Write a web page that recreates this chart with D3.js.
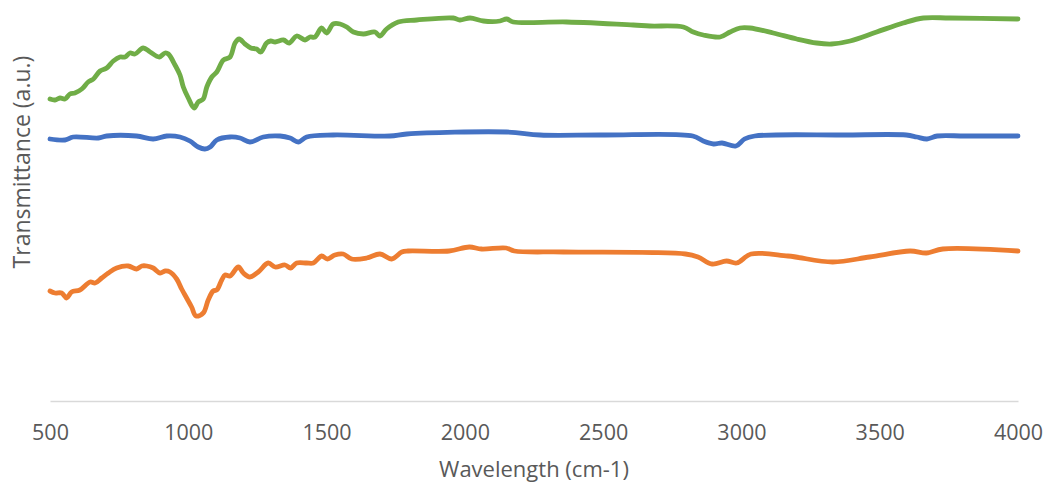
<!DOCTYPE html>
<html>
<head>
<meta charset="utf-8">
<script src="https://cdn.jsdelivr.net/npm/d3@7"></script>
<style>
  body { margin: 0; background: #fff; }
  svg { display: block; }
  text { font-family: "Open Sans", sans-serif; fill: #595959; }
</style>
</head>
<body>
<div class="chart"></div>
<script>
// chart size
const width = 1043;
const height = 485;
const margin = { top: 1, right: 25, bottom: 84, left: 50 };

// x ticks
const xTicks = [500, 1000, 1500, 2000, 2500, 3000, 3500, 4000];

// series: [wavenumber, transmittance (a.u.)]
const greenSeries = [
  [500, 3.02], [518, 3.01], [536, 3.03], [554, 3.02], [572, 3.07], [590, 3.08],
  [615, 3.12], [638, 3.19], [657, 3.22], [681, 3.30], [705, 3.33], [729, 3.40],
  [753, 3.44], [771, 3.44], [789, 3.48], [807, 3.47], [837, 3.53], [862, 3.49],
  [895, 3.44], [916, 3.48], [928, 3.47], [952, 3.36], [970, 3.26], [982, 3.14],
  [1000, 3.03], [1021, 2.93], [1036, 2.99], [1054, 3.02], [1067, 3.14], [1085, 3.24],
  [1103, 3.29], [1127, 3.41], [1151, 3.44], [1169, 3.58], [1184, 3.62], [1205, 3.57],
  [1226, 3.53], [1247, 3.52], [1262, 3.49], [1283, 3.58], [1298, 3.60], [1314, 3.59],
  [1344, 3.61], [1365, 3.58], [1392, 3.65], [1422, 3.61], [1440, 3.64], [1458, 3.64],
  [1482, 3.73], [1500, 3.68], [1524, 3.77], [1549, 3.77], [1573, 3.74], [1597, 3.69],
  [1633, 3.67], [1675, 3.69], [1693, 3.65], [1717, 3.72], [1759, 3.79], [1826, 3.81],
  [1958, 3.83], [1982, 3.81], [2019, 3.83], [2067, 3.80], [2127, 3.80], [2151, 3.82],
  [2175, 3.79], [2368, 3.79], [2609, 3.76], [2669, 3.75], [2790, 3.74], [2826, 3.69],
  [2862, 3.66], [2923, 3.64], [2959, 3.69], [2995, 3.73], [3031, 3.73], [3115, 3.68],
  [3200, 3.62], [3272, 3.58], [3326, 3.57], [3393, 3.60], [3489, 3.69], [3585, 3.78],
  [3658, 3.83], [3754, 3.83], [4000, 3.82]
];

const blueSeries = [
  [500, 2.62], [554, 2.61], [584, 2.64], [675, 2.63], [705, 2.65], [813, 2.65],
  [873, 2.62], [922, 2.65], [970, 2.64], [1006, 2.60], [1036, 2.54], [1060, 2.52],
  [1079, 2.54], [1103, 2.61], [1151, 2.64], [1187, 2.63], [1223, 2.59], [1271, 2.64],
  [1332, 2.65], [1368, 2.63], [1398, 2.59], [1428, 2.64], [1524, 2.66], [1729, 2.65],
  [1790, 2.67], [2151, 2.69], [2272, 2.66], [2501, 2.66], [2824, 2.65], [2862, 2.60],
  [2899, 2.57], [2930, 2.58], [2980, 2.55], [3011, 2.62], [3048, 2.65], [3372, 2.66],
  [3596, 2.66], [3634, 2.64], [3671, 2.62], [3708, 2.65], [3808, 2.65], [4000, 2.65]
];

const orangeSeries = [
  [500, 1.10], [518, 1.08], [542, 1.08], [560, 1.03], [578, 1.09], [608, 1.11],
  [645, 1.19], [663, 1.18], [687, 1.23], [711, 1.28], [741, 1.33], [783, 1.35],
  [813, 1.32], [832, 1.35], [850, 1.35], [873, 1.33], [898, 1.28], [916, 1.30],
  [934, 1.29], [958, 1.22], [976, 1.12], [994, 1.03], [1012, 0.94], [1028, 0.85],
  [1054, 0.88], [1072, 1.01], [1090, 1.10], [1103, 1.11], [1121, 1.21], [1133, 1.26],
  [1151, 1.25], [1181, 1.34], [1199, 1.28], [1223, 1.24], [1253, 1.29], [1289, 1.38],
  [1314, 1.34], [1350, 1.36], [1370, 1.33], [1392, 1.38], [1428, 1.38], [1452, 1.38],
  [1482, 1.45], [1503, 1.42], [1530, 1.46], [1560, 1.47], [1591, 1.42], [1645, 1.43],
  [1693, 1.47], [1735, 1.42], [1772, 1.49], [1795, 1.50], [1943, 1.50], [2016, 1.54],
  [2060, 1.52], [2149, 1.53], [2179, 1.50], [2356, 1.49], [2798, 1.47], [2843, 1.44],
  [2894, 1.37], [2946, 1.40], [2983, 1.38], [3035, 1.47], [3168, 1.45], [3330, 1.39],
  [3463, 1.44], [3610, 1.50], [3669, 1.48], [3728, 1.52], [4000, 1.50]
];

const series = [
  { name: "green", values: greenSeries, color: "#70ad47" },
  { name: "blue", values: blueSeries, color: "#4472c4" },
  { name: "orange", values: orangeSeries, color: "#ed7d31" }
];

const svg = d3
  .select(".chart")
  .append("svg")
  .attr("width", width)
  .attr("height", height);

const x = d3
  .scaleLinear()
  .domain([500, 4000])
  .range([margin.left, width - margin.right]);

const y = d3
  .scaleLinear()
  .domain([0, 4])
  .range([height - margin.bottom, margin.top]);

// x axis: plain line + labels, no tick marks
const xAxis = svg
  .append("g")
  .attr("transform", `translate(0,${y(0)})`)
  .call(d3.axisBottom(x).tickValues(xTicks).tickSize(0).tickPadding(24).tickFormat(d3.format("d")));

xAxis.select(".domain").attr("stroke", "#d9d9d9").attr("stroke-width", 1.5);
xAxis.selectAll("text")
  .attr("font-size", "21.5px")
  .attr("font-family", "'Open Sans', sans-serif")
  .attr("fill", "#595959");

// lines
const line = d3
  .line()
  .x((d) => x(d[0]))
  .y((d) => y(d[1]))
  .curve(d3.curveCatmullRom.alpha(0.5));

svg
  .append("g")
  .selectAll("path")
  .data(series)
  .enter()
  .append("path")
  .attr("fill", "none")
  .attr("stroke", (d) => d.color)
  .attr("stroke-width", 4.8)
  .attr("stroke-linejoin", "round")
  .attr("stroke-linecap", "round")
  .attr("d", (d) => line(d.values));

// axis titles
svg
  .append("text")
  .attr("x", (margin.left + width - margin.right) / 2)
  .attr("y", 477)
  .attr("text-anchor", "middle")
  .attr("font-size", "22px")
  .text("Wavelength (cm-1)");

svg
  .append("text")
  .attr("transform", "translate(30,162) rotate(-90)")
  .attr("text-anchor", "middle")
  .attr("font-size", "23px")
  .text("Transmittance (a.u.)");
</script>
</body>
</html>
